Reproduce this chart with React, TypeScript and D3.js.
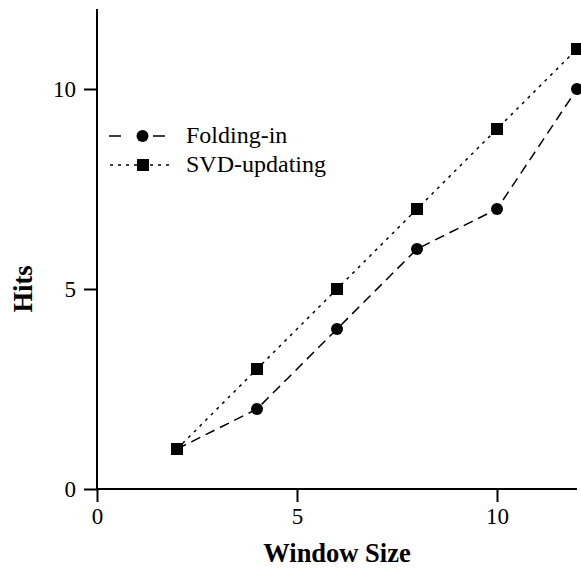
import React, { useEffect, useRef } from 'react';
import * as d3 from 'd3';

const windowSizes = [2, 4, 6, 8, 10, 12];
const foldingIn = [1, 2, 4, 6, 7, 10];
const svdUpdating = [1, 3, 5, 7, 9, 11];
const xMajor = [0, 5, 10];
const yMajor = [0, 5, 10];

export default function App() {
  const ref = useRef<SVGSVGElement>(null);

  useEffect(() => {
    const svg = d3.select(ref.current);
    svg.selectAll('*').remove();

    const left = 97, bottom = 489;
    const x = d3.scaleLinear().domain([0, 12]).range([left, left + 480]);
    const y = d3.scaleLinear().domain([0, 12]).range([bottom, bottom - 480]);
    const font = 'Liberation Serif, Times New Roman, serif';

    // x axis: minor ticks every unit, labelled majors
    const gx = svg.append('g').attr('transform', `translate(0,${bottom})`);
    gx.call(d3.axisBottom(x).tickValues(d3.range(0, 13)).tickSize(6).tickFormat(() => ''));
    gx.call(d3.axisBottom(x).tickValues(xMajor).tickSize(13).tickFormat(d3.format('d')));
    gx.selectAll('line').attr('stroke-width', 2);
    gx.selectAll('text').attr('font-family', font).attr('font-size', 23).attr('y', 35).attr('dy', null).attr('fill', '#000');

    // y axis
    const gy = svg.append('g').attr('transform', `translate(${left},0)`);
    gy.call(d3.axisLeft(y).tickValues(d3.range(0, 13)).tickSize(6).tickFormat(() => ''));
    gy.call(d3.axisLeft(y).tickValues(yMajor).tickSize(13).tickFormat(d3.format('d')));
    gy.selectAll('line').attr('stroke-width', 2);
    gy.selectAll('text').attr('font-family', font).attr('font-size', 23).attr('x', -21).attr('fill', '#000');
    svg.selectAll('path.domain').remove();
    svg.append('line').attr('x1', left).attr('x2', left).attr('y1', y(12)).attr('y2', bottom).attr('stroke', '#000').attr('stroke-width', 2);
    svg.append('line').attr('x1', left).attr('x2', x(12)).attr('y1', bottom).attr('y2', bottom).attr('stroke', '#000').attr('stroke-width', 2);

    const line = d3.line<number>().x((_, i) => x(windowSizes[i])).y(d => y(d));

    svg.append('path').datum(foldingIn).attr('d', line).attr('fill', 'none')
      .attr('stroke', '#000').attr('stroke-width', 1.5).attr('stroke-dasharray', '10,6');
    svg.append('path').datum(svdUpdating).attr('d', line).attr('fill', 'none')
      .attr('stroke', '#000').attr('stroke-width', 1.5).attr('stroke-dasharray', '3,5');

    svg.selectAll('.dot').data(foldingIn).enter().append('circle')
      .attr('cx', (_, i) => x(windowSizes[i])).attr('cy', d => y(d)).attr('r', 6).attr('fill', '#000');
    svg.selectAll('.sq').data(svdUpdating).enter().append('rect')
      .attr('x', (_, i) => x(windowSizes[i]) - 6).attr('y', d => y(d) - 6)
      .attr('width', 12).attr('height', 12).attr('fill', '#000');

    // legend
    const lg = svg.append('g');
    lg.append('line').attr('x1', 109).attr('x2', 165).attr('y1', 136).attr('y2', 136)
      .attr('stroke', '#000').attr('stroke-width', 1.5).attr('stroke-dasharray', '12,32');
    lg.append('circle').attr('cx', 142.5).attr('cy', 136).attr('r', 6).attr('fill', '#000');
    lg.append('text').attr('x', 186).attr('y', 143).text('Folding-in')
      .attr('font-family', font).attr('font-size', 24);
    lg.append('line').attr('x1', 110).attr('x2', 170).attr('y1', 165).attr('y2', 165)
      .attr('stroke', '#000').attr('stroke-width', 1.5).attr('stroke-dasharray', '3,5');
    lg.append('rect').attr('x', 137).attr('y', 159).attr('width', 12).attr('height', 12).attr('fill', '#000');
    lg.append('text').attr('x', 186).attr('y', 172).text('SVD-updating')
      .attr('font-family', font).attr('font-size', 24);

    svg.append('text').attr('x', 337).attr('y', 562).attr('text-anchor', 'middle')
      .attr('font-family', font).attr('font-size', 26.5).attr('font-weight', 'bold').text('Window Size');
    svg.append('text').attr('transform', `translate(32,${y(5)}) rotate(-90)`).attr('text-anchor', 'middle')
      .attr('font-family', font).attr('font-size', 26.5).attr('font-weight', 'bold').text('Hits');
  }, []);

  return (
    <svg ref={ref} width={581} height={571}
      style={{ position: 'absolute', left: 0, top: 0, background: '#fff' }} />
  );
}
